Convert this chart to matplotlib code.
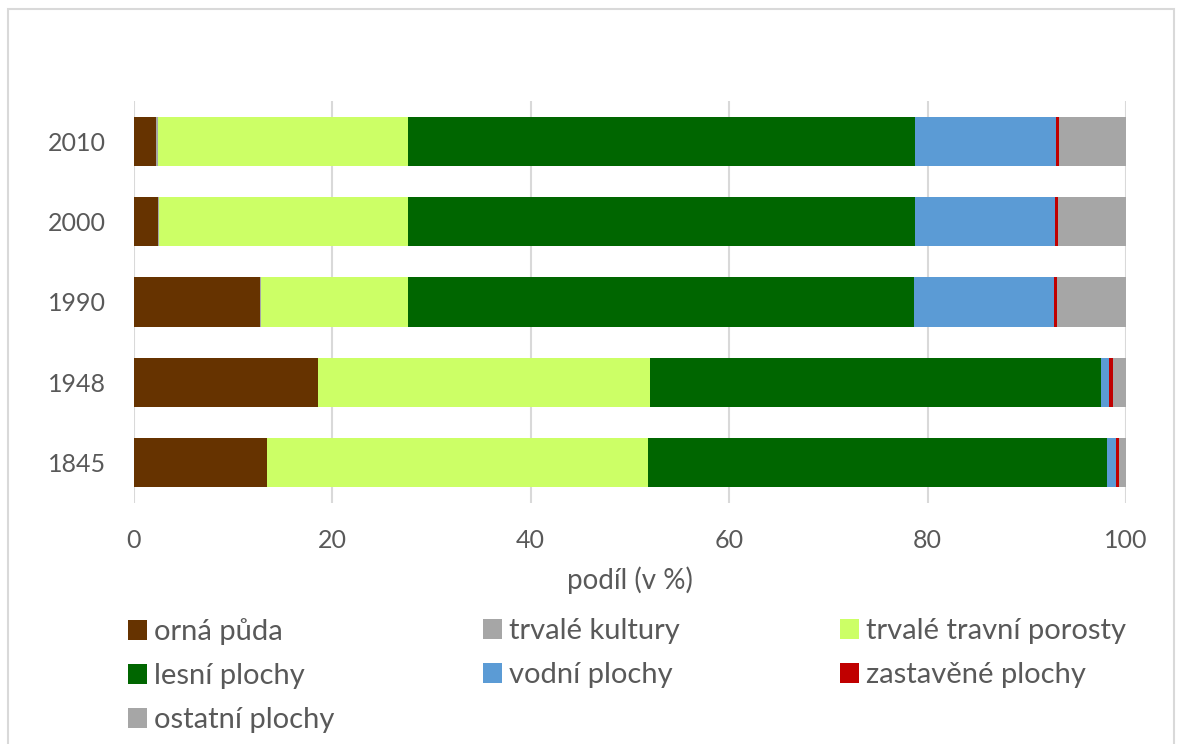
# Struktura využití ploch v letech 1845-2010 (skládaný pruhový graf)

import numpy as np
import matplotlib.pyplot as plt
from matplotlib.patches import Rectangle, Patch

plt.rcParams['font.family'] = ['Lato', 'DejaVu Sans']

# roky (odspodu nahoru)
years = ['1845', '1948', '1990', '2000', '2010']

# podíly kategorií v % pro každý rok
orna = [13.5, 18.6, 12.7, 2.5, 2.27]
kultury = [0.0, 0.0, 0.1, 0.1, 0.15]
travni = [38.3, 33.4, 14.9, 25.1, 25.2]
lesni = [46.3, 45.5, 50.9, 51.0, 51.1]
vodni = [0.9, 0.8, 14.1, 14.1, 14.2]
zastavene = [0.3, 0.4, 0.35, 0.3, 0.3]
ostatni = [0.7, 1.3, 6.95, 6.9, 6.8]

names = ['orná půda', 'trvalé kultury', 'trvalé travní porosty', 'lesní plochy',
         'vodní plochy', 'zastavěné plochy', 'ostatní plochy']
series = [orna, kultury, travni, lesni, vodni, zastavene, ostatni]
colors = ['#663300', '#A6A6A6', '#CCFF66', '#006600', '#5B9BD5', '#C00000', '#A6A6A6']

txt = '#595959'

fig = plt.figure(figsize=(11.77, 7.44), dpi=100)
ax = fig.add_axes([133.5 / 1177, 1 - 503 / 744, (1126 - 133.5) / 1177, 402 / 744])

y = np.arange(len(years))
left = np.zeros(len(years))
for vals, c, n in zip(series, colors, names):
    ax.barh(y, vals, left=left, height=0.61, color=c, label=n, zorder=3)
    left += np.array(vals)

ax.set_xlim(0, 100)
ax.set_ylim(-0.5, 4.5)
ax.set_yticks(y)
ax.set_yticklabels(years)
ax.set_xticks(np.arange(0, 101, 20))
ax.tick_params(axis='both', length=0, labelsize=18, colors=txt)
ax.tick_params(axis='x', pad=19)
ax.tick_params(axis='y', pad=20)
ax.grid(axis='x', color='#D9D9D9', linewidth=1.5, zorder=0)
for s in ax.spines.values():
    s.set_visible(False)
ax.set_xlabel('podíl (v %)', fontsize=20, color=txt, labelpad=10)

# legenda po sloupcích, aby pořadí šlo po řádcích jako v originále
cols = [[0, 3, 6], [1, 4], [2, 5]]
xs = [128, 483, 840]
for idx, x0 in zip(cols, xs):
    handles = [Patch(facecolor=colors[i], label=names[i]) for i in idx]
    fig.legend(handles=handles, loc='upper left',
               bbox_to_anchor=(x0 / 1177, 1 - 618 / 744),
               frameon=False, fontsize=21, labelcolor=txt,
               handlelength=0.65, handleheight=0.7, handletextpad=0.25,
               labelspacing=0.62, borderaxespad=0, borderpad=0)

# rámeček grafu
fig.patches.append(Rectangle((8 / 1177, -0.05), (1174 - 8) / 1177, 1 - 9 / 744 + 0.05,
                             transform=fig.transFigure, fill=False,
                             edgecolor='#D9D9D9', linewidth=1.5))

fig.savefig('out.png', dpi=100)
